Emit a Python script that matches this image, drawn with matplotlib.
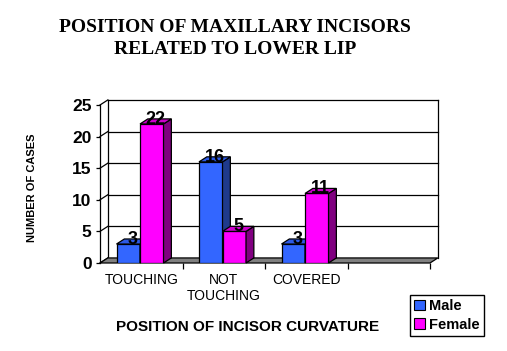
import matplotlib.pyplot as plt
from matplotlib.patches import Patch

# data
categories = ['TOUCHING', 'NOT\nTOUCHING', 'COVERED', '']
male = [3, 16, 3]
female = [22, 5, 11]

# colours of the 3d bars: face, side, top
male_cols = ('#3366ff', '#1f3a8c', '#2d5ae6')
female_cols = ('#ff00ff', '#800080', '#cc00cc')

fig = plt.figure(figsize=(5.07, 3.51), dpi=100)
ax = fig.add_axes([100 / 507, 88 / 351, 330 / 507, 158 / 351])
ax.set_xlim(0, len(categories))
ax.set_ylim(0, 25)

# depth of the fake 3d view in data units
dx, dy = 0.095, 0.8
lw = 0.9

# back wall with gridlines, left wall diagonals
for v in range(0, 30, 5):
    if v > 0:
        ax.plot([dx, len(categories) + dx], [v + dy, v + dy], color='black', lw=lw, clip_on=False, zorder=1)
    ax.plot([0, dx], [v, v + dy], color='black', lw=lw, clip_on=False, zorder=1)
ax.plot([dx, dx], [dy, 25 + dy], color='black', lw=lw, clip_on=False, zorder=1)
ax.plot([len(categories) + dx] * 2, [dy, 25 + dy], color='black', lw=lw, clip_on=False, zorder=1)

# floor
n = len(categories)
ax.fill([0, n, n + dx, dx], [0, 0, dy, dy], facecolor='#808080', edgecolor='black', lw=lw, clip_on=False, zorder=2)


def bars3d(xs, vals, w, cols, label):
    face, side, top = cols
    ax.bar(xs, vals, width=w, align='edge', color=face, edgecolor='black', lw=lw, zorder=3, label=label)
    for x0, v in zip(xs, vals):
        x1 = x0 + w
        ax.fill([x1, x1 + dx, x1 + dx, x1], [0, dy, v + dy, v], facecolor=side, edgecolor='black', lw=lw, zorder=3, clip_on=False)
        ax.fill([x0, x1, x1 + dx, x0 + dx], [v, v, v + dy, v + dy], facecolor=top, edgecolor='black', lw=lw, zorder=3, clip_on=False)
        ax.text(x0 + w / 2 + dx / 2, v, str(v), ha='center', va='baseline', fontsize=13,
                fontweight='bold', family='Liberation Sans', zorder=5)


w = 0.285
xs = [i + 0.2 for i in range(len(male))]
bars3d(xs, male, w, male_cols, 'Male')
bars3d([x + w for x in xs], female, w, female_cols, 'Female')

# axes styling
for s in ['top', 'right', 'bottom']:
    ax.spines[s].set_visible(False)
ax.spines['left'].set_linewidth(lw)
ax.spines['left'].set_zorder(4)
ax.set_yticks(range(0, 30, 5))
ax.tick_params(axis='y', length=3, width=lw, pad=3)
for t in ax.get_yticklabels():
    t.set_fontsize(12.5)
    t.set_fontweight('bold')
    t.set_family('Liberation Sans')

ax.set_xticks([i + 0.5 for i in range(n)])
ax.set_xticklabels(categories, fontsize=10, family='Liberation Sans', linespacing=1.25)
ax.set_xticks(range(1, n + 1), minor=True)
ax.tick_params(axis='x', which='major', length=0, pad=7)
ax.tick_params(axis='x', which='minor', length=4, width=lw)

# titles
fig.text(235 / 507, 1 - 38.5 / 351, 'POSITION OF MAXILLARY INCISORS\nRELATED TO LOWER LIP',
         ha='center', va='center', fontsize=14, fontweight='bold', family='Liberation Serif', linespacing=1.4)
fig.text(248 / 507, 1 - 327 / 351, 'POSITION OF INCISOR CURVATURE', ha='center', va='center',
         fontsize=11, fontweight='bold', family='Liberation Sans')
fig.text(32 / 507, 1 - 188 / 351, 'NUMBER OF CASES', ha='center', va='center', rotation=90,
         fontsize=8, fontweight='bold', family='Liberation Sans')

handles = [Patch(facecolor=male_cols[0], edgecolor='black', lw=0.8, label='Male'),
           Patch(facecolor=female_cols[0], edgecolor='black', lw=0.8, label='Female')]
leg = fig.legend(handles=handles, loc='lower left', bbox_to_anchor=(410 / 507, 15 / 351),
                 prop={'family': 'Liberation Sans', 'weight': 'bold', 'size': 10.5},
                 fancybox=False, edgecolor='black', framealpha=1, handlelength=0.7, handleheight=0.7,
                 handletextpad=0.3, borderpad=0.3, labelspacing=0.3, borderaxespad=0)
leg.get_frame().set_linewidth(1)

fig.savefig('out.png', dpi=100)
